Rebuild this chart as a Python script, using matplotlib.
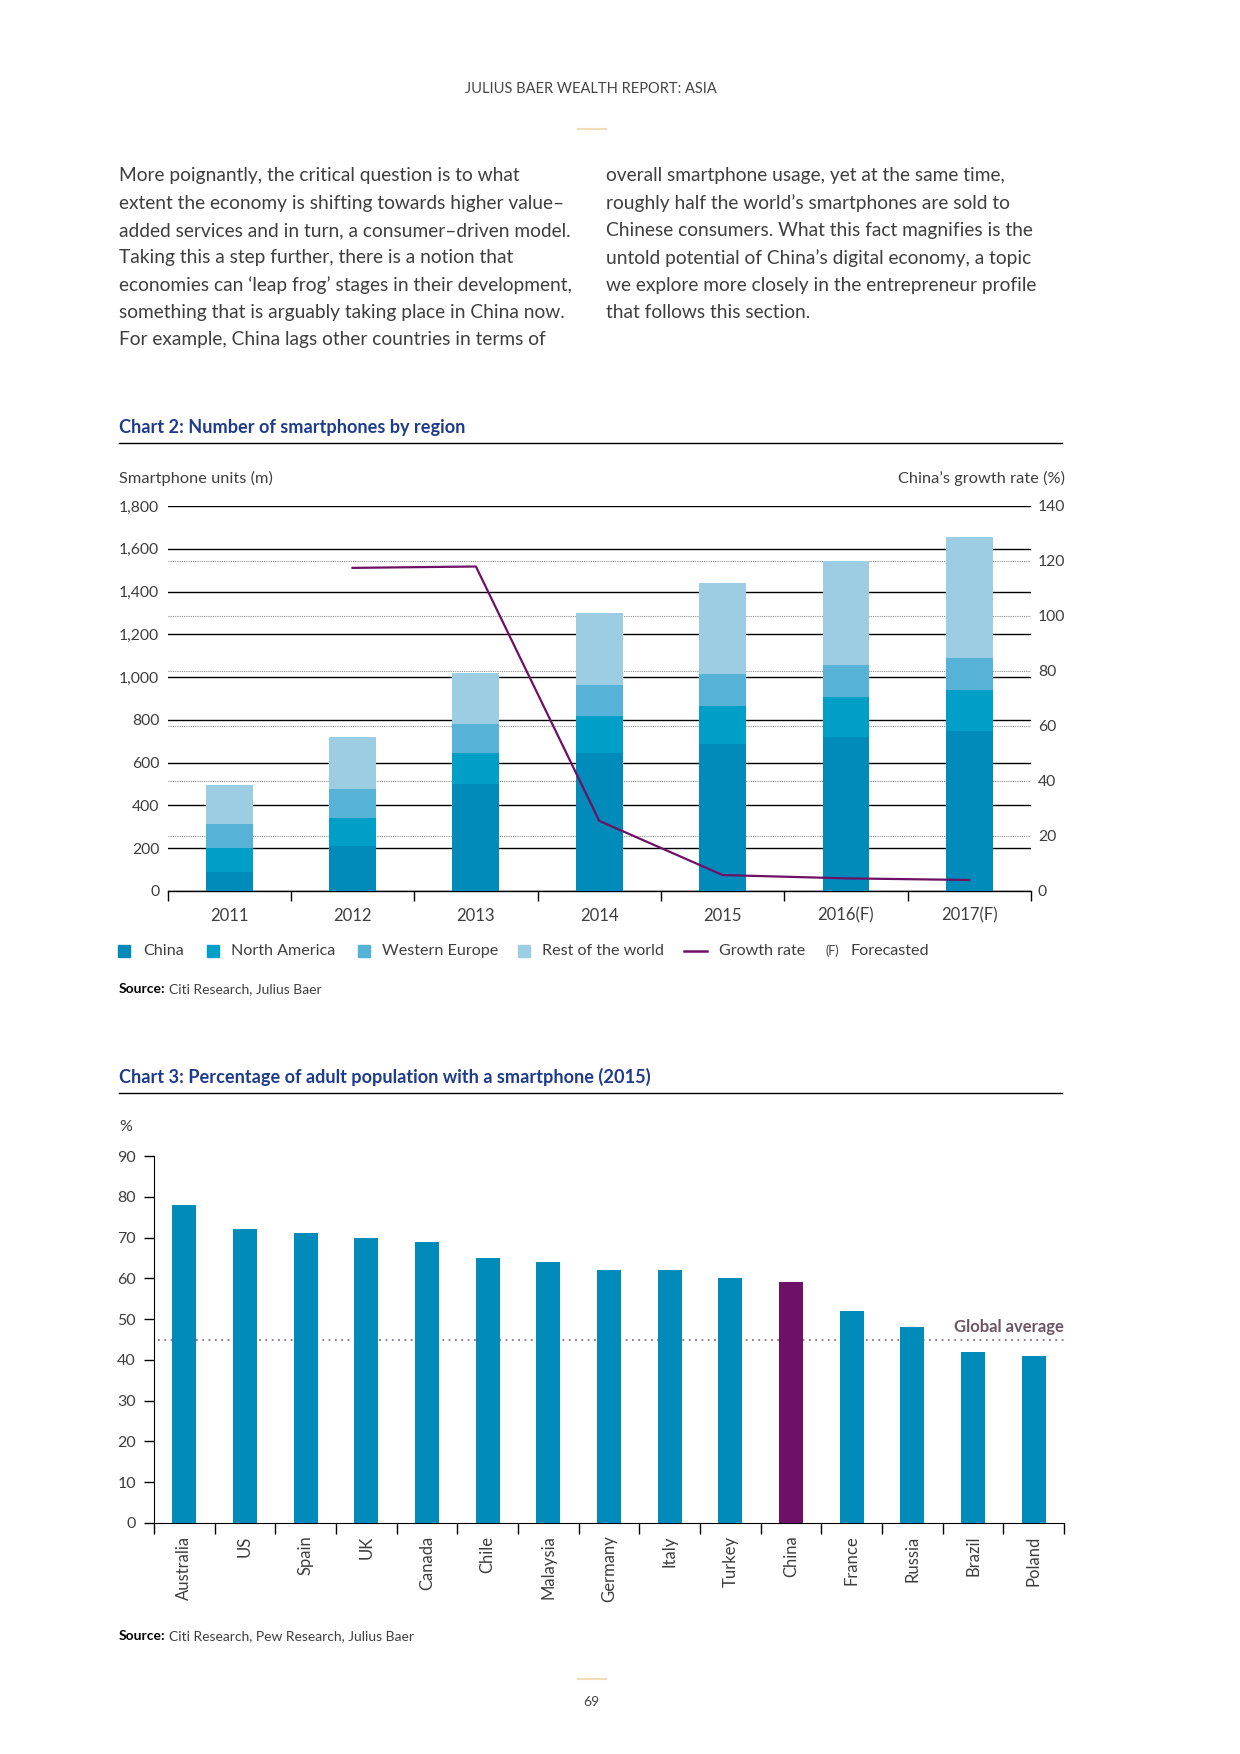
import matplotlib.pyplot as plt
import matplotlib.transforms as mtransforms
from matplotlib.patches import Rectangle
from matplotlib.lines import Line2D
import numpy as np

plt.rcParams['font.family'] = ['Lato', 'DejaVu Sans']

# ---------------------------------------------------------------
# Data
# ---------------------------------------------------------------
years = ['2011', '2012', '2013', '2014', '2015', '2016(F)', '2017(F)']
china_units = [90, 210, 500, 645, 685, 720, 750]
north_america_units = [110, 130, 145, 175, 180, 185, 190]
western_europe_units = [115, 135, 135, 145, 150, 150, 150]
rest_of_world_units = [180, 245, 240, 335, 425, 490, 565]
growth_years = ['2012', '2013', '2014', '2015', '2016(F)', '2017(F)']
china_growth = [117.5, 118, 25.5, 5.8, 4.6, 4.0]

countries = ['Australia', 'US', 'Spain', 'UK', 'Canada', 'Chile', 'Malaysia',
             'Germany', 'Italy', 'Turkey', 'China', 'France', 'Russia',
             'Brazil', 'Poland']
adult_share = [78, 72, 71, 70, 69, 65, 64, 62, 62, 60, 59, 52, 48, 42, 41]
global_average = 45

left_col = [
    "More poignantly, the critical question is to what",
    "extent the economy is shifting towards higher value\u2013",
    "added services and in turn, a consumer\u2013driven model.",
    "Taking this a step further, there is a notion that",
    "economies can \u2018leap frog\u2019 stages in their development,",
    "something that is arguably taking place in China now.",
    "For example, China lags other countries in terms of",
]
right_col = [
    "overall smartphone usage, yet at the same time,",
    "roughly half the world\u2019s smartphones are sold to",
    "Chinese consumers. What this fact magnifies is the",
    "untold potential of China\u2019s digital economy, a topic",
    "we explore more closely in the entrepreneur profile",
    "that follows this section.",
]

# colours
C_CHINA = '#008bbb'
C_NAM = '#009fc8'
C_WEU = '#56b2d6'
C_ROW = '#9ccde2'
C_PURPLE = '#6e1066'
C_TITLE = '#1f3c8c'
C_TEXT = '#3e3e3e'
C_GOLD = '#f2dcb8'

W, H = 1240, 1754
fig = plt.figure(figsize=(12.4, 17.54), dpi=100)
renderer = fig.canvas.get_renderer()


def fx(px):
    return px / W


def fy(px):
    return 1 - px / H


def source_line(y, rest):
    # bold "Source:" followed by the regular text
    t = fig.text(fx(119), y, 'Source:', ha='left', va='center', fontsize=10,
                 fontweight='bold', color='black')
    bb = t.get_window_extent(renderer=renderer)
    fig.text(bb.x1 / W + 0.003, y, rest, ha='left', va='center', fontsize=10, color=C_TEXT)


# ---------------------------------------------------------------
# Page header and body text
# ---------------------------------------------------------------
fig.text(0.4765, fy(89), 'JULIUS BAER WEALTH REPORT: ASIA', ha='center', va='center',
         fontsize=10.5, color='#444444')
fig.add_artist(Line2D([0.466, 0.489], [fy(129), fy(129)], color=C_GOLD, lw=1.5))

for i, s in enumerate(left_col):
    fig.text(fx(119), fy(176 + i * 27.3), s, ha='left', va='center',
             fontsize=13.8, color=C_TEXT)
for i, s in enumerate(right_col):
    fig.text(fx(606), fy(176 + i * 27.3), s, ha='left', va='center',
             fontsize=13.8, color=C_TEXT)

# ---------------------------------------------------------------
# Chart 2: Number of smartphones by region
# ---------------------------------------------------------------
fig.text(fx(119), fy(427), 'Chart 2: Number of smartphones by region', ha='left', va='center',
         fontsize=13.1, fontweight='bold', color=C_TITLE)
fig.add_artist(Line2D([fx(119), fx(1062)], [fy(443), fy(443)], color='black', lw=1))
fig.text(fx(119), fy(478), 'Smartphone units (m)', ha='left', va='center', fontsize=11.8, color=C_TEXT)
fig.text(fx(1065), fy(478), 'China\u2019s growth rate (%)', ha='right', va='center',
         fontsize=11.8, color=C_TEXT)

rect2 = [fx(167.5), fy(891), fx(1031) - fx(167.5), fy(506) - fy(891)]

# dotted grid for the right-hand scale, behind everything
ax_back = fig.add_axes(rect2, zorder=0)
ax_back.set_ylim(0, 140)
ax_back.set_xlim(0, 1)
ax_back.set_yticks(range(20, 140, 20))
ax_back.yaxis.grid(True, ls=(0, (1, 1)), color='#8c8c8c', lw=0.8)
ax_back.tick_params(left=False, bottom=False, labelleft=False, labelbottom=False)
for sp in ax_back.spines.values():
    sp.set_visible(False)

ax2 = fig.add_axes(rect2, zorder=1)
ax2.patch.set_visible(False)
x = np.arange(len(years))
bottom = np.zeros(len(years))
for vals, col in [(china_units, C_CHINA), (north_america_units, C_NAM),
                  (western_europe_units, C_WEU), (rest_of_world_units, C_ROW)]:
    ax2.bar(x, vals, width=0.38, bottom=bottom, color=col, zorder=3)
    bottom += np.array(vals)
ax2.set_xlim(-0.5, len(years) - 0.5)
ax2.set_ylim(0, 1800)
ax2.set_yticks(range(0, 1801, 200))
ax2.set_yticklabels([f'{v:,}' for v in range(0, 1801, 200)])
ax2.yaxis.grid(True, color='black', lw=1)
ax2.set_axisbelow(True)
ax2.set_xticks(x)
ax2.set_xticklabels(years)
ax2.set_xticks(np.arange(-0.5, len(years)), minor=True)
ax2.tick_params(axis='x', which='major', length=0, pad=12, labelsize=12, labelcolor=C_TEXT)
ax2.tick_params(axis='x', which='minor', length=7, width=1, color='black')
ax2.tick_params(axis='y', length=0, pad=6, labelsize=11.3, labelcolor=C_TEXT)
for sp in ['left', 'right', 'top']:
    ax2.spines[sp].set_visible(False)
ax2.spines['bottom'].set_linewidth(1)

ax_r = ax2.twinx()
ax_r.set_zorder(2)
ax_r.patch.set_visible(False)
ax_r.plot([years.index(y) for y in growth_years], china_growth, color=C_PURPLE, lw=1.6)
ax_r.set_ylim(0, 140)
ax_r.set_yticks(range(0, 141, 20))
ax_r.tick_params(axis='y', length=0, pad=5, labelsize=11.3, labelcolor=C_TEXT)
for sp in ax_r.spines.values():
    sp.set_visible(False)

# legend, laid out by hand to follow the page
ly = fy(951)
for sx, tx, col, lab in [(118, 143, C_CHINA, 'China'), (207, 231, C_NAM, 'North America'),
                         (358, 382, C_WEU, 'Western Europe'),
                         (518, 542, C_ROW, 'Rest of the world')]:
    fig.add_artist(Rectangle((fx(sx), ly - 6 / H), 12 / W, 12 / H, color=col))
    fig.text(fx(tx), ly, lab, ha='left', va='center', fontsize=11.6, color=C_TEXT)
fig.add_artist(Line2D([fx(684), fx(707)], [ly, ly], color=C_PURPLE, lw=1.8))
fig.text(fx(719), ly, 'Growth rate', ha='left', va='center', fontsize=11.6, color=C_TEXT)
fig.text(fx(825), ly, '(F)', ha='left', va='center', fontsize=9, color=C_TEXT)
fig.text(fx(851), ly, 'Forecasted', ha='left', va='center', fontsize=11.6, color=C_TEXT)

source_line(fy(989), 'Citi Research, Julius Baer')

# ---------------------------------------------------------------
# Chart 3: Percentage of adult population with a smartphone
# ---------------------------------------------------------------
fig.text(fx(119), fy(1077), 'Chart 3: Percentage of adult population with a smartphone (2015)',
         ha='left', va='center', fontsize=13.1, fontweight='bold', color=C_TITLE)
fig.add_artist(Line2D([fx(119), fx(1062)], [fy(1093), fy(1093)], color='black', lw=1))
fig.text(fx(119), fy(1127), '%', ha='left', va='center', fontsize=11.5, color=C_TEXT)

ax3 = fig.add_axes([fx(154), fy(1523), fx(1064) - fx(154), fy(1156) - fy(1523)])
xc = np.arange(len(countries))
colors3 = [C_PURPLE if c == 'China' else C_CHINA for c in countries]
ax3.bar(xc, adult_share, width=0.4, color=colors3, zorder=3)
ax3.axhline(global_average, xmin=0.004, xmax=1, color='#8a7383', lw=1.3,
            ls=(0, (1, 2.5)), zorder=1)
trans = mtransforms.blended_transform_factory(ax3.transAxes, ax3.transData)
ax3.text(1.0, global_average + 1.2, 'Global average', transform=trans, ha='right', va='bottom',
         fontsize=12, fontweight='bold', color='#6e5563')
ax3.set_xlim(-0.5, len(countries) - 0.5)
ax3.set_ylim(0, 90)
ax3.set_yticks(range(0, 91, 10))
ax3.tick_params(axis='y', length=7, width=1, pad=6, labelsize=11.5, labelcolor=C_TEXT)
ax3.set_xticks(xc)
ax3.set_xticklabels(countries, rotation=90, va='top', ha='center')
ax3.set_xticks(np.arange(-0.5, len(countries)), minor=True)
ax3.tick_params(axis='x', which='major', length=0, pad=9, labelsize=12, labelcolor=C_TEXT)
ax3.tick_params(axis='x', which='minor', length=8, width=1, color='black')
ax3.spines['top'].set_visible(False)
ax3.spines['right'].set_visible(False)

source_line(fy(1636), 'Citi Research, Pew Research, Julius Baer')

# ---------------------------------------------------------------
# Footer
# ---------------------------------------------------------------
fig.add_artist(Line2D([0.466, 0.489], [fy(1679), fy(1679)], color=C_GOLD, lw=1.5))
fig.text(0.4765, fy(1702), '69', ha='center', va='center', fontsize=10, color='#444444')

fig.savefig('out.png', dpi=100)
plt.close(fig)
